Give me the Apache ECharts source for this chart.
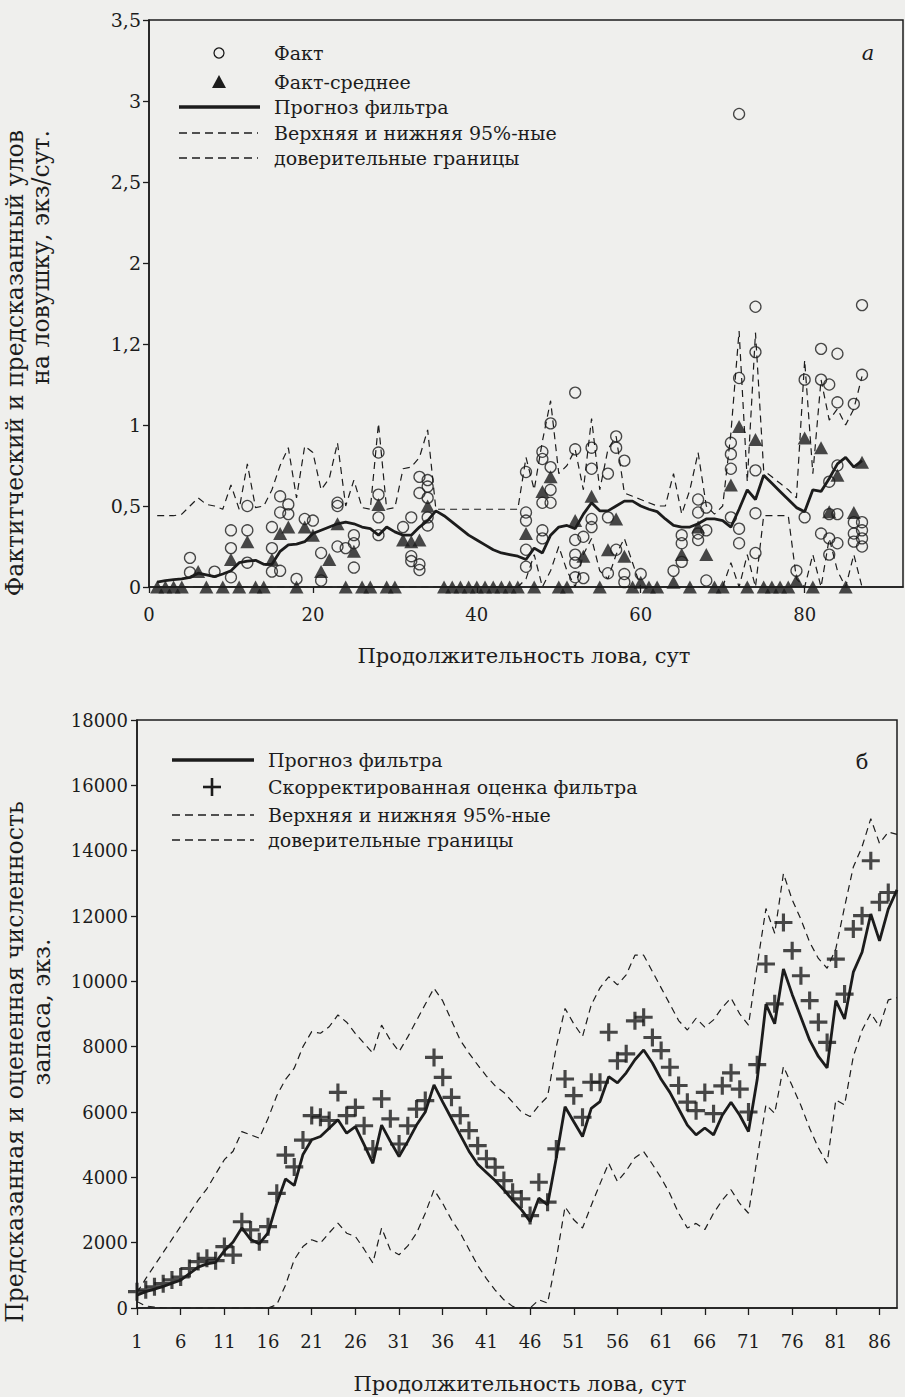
<!DOCTYPE html>
<html><head><meta charset="utf-8">
<script src="https://cdn.jsdelivr.net/npm/echarts@6/dist/echarts.min.js"></script>
<style>html,body{margin:0;padding:0;background:#efefed;}#c{width:905px;height:1397px;}</style>
</head><body><div id="c"></div>
<script>
// ---------- Panel a (top) ----------
const topDays = [1,2,3,4,5,6,7,8,9,10,11,12,13,14,15,16,17,18,19,20,21,22,23,24,25,26,27,28,29,30,31,32,33,34,35,36,37,38,39,40,41,42,43,44,45,46,47,48,49,50,51,52,53,54,55,56,57,58,59,60,61,62,63,64,65,66,67,68,69,70,71,72,73,74,75,76,77,78,79,80,81,82,83,84,85,86,87];
const topForecast = [0.03,0.04,0.045,0.05,0.06,0.085,0.075,0.064,0.08,0.1,
  0.15,0.16,0.165,0.14,0.14,0.22,0.26,0.265,0.28,0.33,
  0.35,0.37,0.39,0.40,0.39,0.37,0.36,0.32,0.37,0.34,
  0.32,0.32,0.37,0.41,0.47,0.44,0.40,0.36,0.32,0.29,
  0.26,0.23,0.21,0.20,0.19,0.17,0.24,0.21,0.32,0.37,
  0.38,0.36,0.45,0.52,0.47,0.47,0.50,0.53,0.53,0.50,
  0.48,0.465,0.42,0.38,0.37,0.37,0.39,0.42,0.42,0.41,
  0.37,0.48,0.60,0.54,0.69,0.64,0.59,0.54,0.49,0.465,
  0.60,0.59,0.67,0.76,0.80,0.74,0.78];
const topUpper = [0.44,0.44,0.44,0.45,0.50,0.55,0.51,0.50,0.48,0.63,
  0.48,0.76,0.49,0.50,0.60,0.75,0.86,0.55,0.87,0.83,
  0.60,0.67,0.89,0.50,0.66,0.49,0.48,1.01,0.48,0.49,
  0.73,0.74,0.80,0.97,0.48,0.48,0.48,0.48,0.48,0.48,
  0.48,0.48,0.48,0.48,0.48,0.80,0.60,0.90,1.15,0.70,
  0.75,0.85,0.60,1.04,0.60,0.85,0.93,0.58,0.56,0.54,
  0.52,0.50,0.50,0.70,0.45,0.60,0.83,0.50,0.45,0.50,
  0.95,1.58,0.65,1.57,0.72,0.68,0.64,0.60,0.55,1.40,
  0.70,1.28,1.03,1.10,1.00,1.10,1.30];
const topLower = [0,0,0,0,0,0,0,0,0,0,
  0,0,0,0,0,0,0,0,0,0,
  0,0,0,0,0,0,0,0,0,0,
  0,0,0,0,0,0,0,0,0,0,
  0,0,0,0,0,0.05,0.2,0,0.1,0.25,
  0.1,0,0.2,0.3,0.1,0.05,0.2,0.3,0.15,0,
  0,0,0,0,0,0,0,0,0,0,
  0.15,0,0.2,0,0.44,0.44,0.44,0.44,0.05,0,
  0.2,0,0.3,0.1,0,0.2,0];
const factPoints = [[5,0.18],[5,0.09],[8,0.095],[10,0.35],[10,0.24],[10,0.06],[12,0.5],[12,0.35],[12,0.15],
  [15,0.37],[15,0.24],[15,0.095],[16,0.56],[16,0.46],[16,0.1],[17,0.51],[17,0.45],[18,0.05],[19,0.42],[20,0.41],
  [21,0.21],[21,0.04],[23,0.52],[23,0.5],[23,0.25],[24,0.24],[25,0.32],[25,0.27],[25,0.12],
  [28,0.83],[28,0.57],[28,0.43],[28,0.32],[31,0.37],[32,0.43],[32,0.19],[32,0.16],
  [33,0.68],[33,0.58],[33,0.14],[33,0.105],[34,0.66],[34,0.62],[34,0.55],[34,0.43],[34,0.38],
  [46,0.71],[46,0.46],[46,0.41],[46,0.23],[46,0.125],[48,0.835],[48,0.79],[48,0.52],[48,0.35],[48,0.3],
  [49,1.01],[49,0.74],[49,0.6],[49,0.52],[52,1.2],[52,0.85],[52,0.29],[52,0.2],[52,0.15],[52,0.06],
  [53,0.31],[53,0.055],[54,0.86],[54,0.73],[54,0.42],[54,0.37],[56,0.7],[56,0.43],[56,0.085],
  [57,0.93],[57,0.86],[57,0.23],[58,0.78],[58,0.08],[58,0.03],[60,0.08],[64,0.1],
  [65,0.32],[65,0.27],[65,0.155],[67,0.54],[67,0.46],[67,0.33],[67,0.29],[68,0.49],[68,0.35],[68,0.04],
  [71,0.89],[71,0.82],[71,0.73],[71,0.43],[72,2.92],[72,1.29],[72,0.36],[72,0.27],
  [74,1.73],[74,1.45],[74,0.72],[74,0.455],[74,0.21],[79,0.1],[80,1.28],[80,0.43],
  [82,1.47],[82,1.28],[82,0.33],[83,1.25],[83,0.65],[83,0.45],[83,0.3],[83,0.2],
  [84,1.44],[84,1.14],[84,0.75],[84,0.45],[84,0.27],[86,1.13],[86,0.4],[86,0.33],[86,0.28],
  [87,1.74],[87,1.31],[87,0.4],[87,0.35],[87,0.3],[87,0.25]];
const meanPoints = [[6,0.095],[10,0.17],[12,0.28],[15,0.17],[16,0.33],[17,0.37],[19,0.37],[20,0.32],[21,0.095],
  [22,0.17],[23,0.39],[25,0.22],[28,0.51],[31,0.29],[32,0.28],[33,0.29],[34,0.5],[46,0.33],[48,0.59],[49,0.68],
  [52,0.41],[53,0.19],[54,0.56],[56,0.23],[57,0.42],[58,0.19],[60,0.03],[64,0.03],[65,0.2],[67,0.37],[68,0.2],
  [71,0.63],[72,0.99],[74,0.91],[79,0.04],[80,0.92],[82,0.86],[83,0.465],[84,0.69],[86,0.46],[87,0.77],
  [1,0],[2,0],[3,0],[4,0],[7,0],[9,0],[11,0],[13,0],[14,0],[18,0],[24,0],[26,0],[27,0],[29,0],[30,0],
  [36,0],[37,0],[38,0],[39,0],[40,0],[41,0],[42,0],[43,0],[44,0],[45,0],[47,0],[50,0],[51,0],[55,0],
  [59,0],[61,0],[62,0],[66,0],[69,0],[70,0],[73,0],[75,0],[76,0],[77,0],[78,0],[81,0],[85,0]];
const topYLabels = ['0','0,5','1','1,2','2','2,5','3','3,5'];

// ---------- Panel б (bottom) ----------
const botDays = ['1','2','3','4','5','6','7','8','9','10','11','12','13','14','15','16','17','18','19','20','21','22','23','24','25','26','27','28','29','30','31','32','33','34','35','36','37','38','39','40','41','42','43','44','45','46','47','48','49','50','51','52','53','54','55','56','57','58','59','60','61','62','63','64','65','66','67','68','69','70','71','72','73','74','75','76','77','78','79','80','81','82','83','84','85','86','87','88'];
const botForecast = [390,500,580,660,760,850,1050,1250,1350,1400,
  1750,2020,2450,2100,1970,2300,3200,3950,3750,4700,
  5150,5250,5500,5760,5350,5550,5000,4430,5600,5100,
  4640,5100,5600,6000,6830,6300,5800,5300,4800,4400,
  4150,3900,3620,3300,3010,2650,3360,3160,4600,6160,
  5700,5250,6110,6320,7080,6890,7200,7600,7900,7500,
  7000,6600,6100,5600,5300,5510,5300,5900,6300,5900,
  5400,7000,9300,8700,10380,9600,8900,8200,7700,7350,
  9410,8850,10280,10890,12060,11240,12210,12800];
const botCorrected = [500,560,650,745,860,950,1210,1420,1520,1450,
  1880,1620,2640,2390,2030,2490,3510,4680,4320,5140,
  5890,5840,5740,6600,5890,6140,5580,4870,6400,5790,
  5020,5580,6090,6350,7670,7060,6450,5890,5430,4970,
  4570,4310,3900,3546,3340,2830,3850,3240,4870,7010,
  6500,5840,6910,6910,8440,7570,7780,8790,8900,8280,
  7880,7370,6810,6300,6040,6600,5950,6800,7200,6700,
  6000,7450,10530,9310,11800,10940,10170,9410,8750,8130,
  10680,9610,11600,12010,13690,12420,12720,null];
const botUpper = [470,900,1300,1700,2100,2500,2900,3300,3650,4100,
  4540,4800,5400,5300,5200,5800,6500,7000,7340,8000,
  8460,8410,8610,8970,8750,8400,8100,7800,8660,8200,
  7850,8300,8800,9300,9790,9400,8800,8200,7800,7440,
  7100,6800,6600,6300,6000,5860,6200,6470,8000,9170,
  8700,8310,9280,9800,10140,9890,10200,10800,10800,10300,
  9800,9300,8800,8510,8870,8600,8820,9200,9490,9000,
  8660,10500,12230,11470,13300,12500,11900,11200,10700,10400,
  11000,12280,13500,14120,14980,14220,14570,14500];
const botLower = [200,60,30,0,0,0,0,0,0,0,
  0,0,0,0,0,0,100,700,1480,1880,
  2090,1990,2300,2600,2290,2190,1800,1380,2450,1780,
  1630,1900,2290,2900,3620,3200,2700,2300,1800,1300,
  900,550,250,50,0,0,250,150,1500,3100,
  2700,2450,3140,3800,4430,3870,4200,4600,4790,4400,
  3980,3500,2900,2450,2590,2400,2900,3300,3620,3200,
  2900,4600,6220,5960,7390,6800,6200,5500,4900,4430,
  6370,6220,7700,8500,9020,8610,9430,9500];

// ---------- styling ----------
const ink = '#1c1c1c';
const serif = 'DejaVu Serif';
const dash = [7, 5];
const plusPath = 'path://M6.6,0h2.8v16h-2.8zM0,6.6h16v2.8h-16z';
const pairs = (xs, ys) => xs.map((x, i) => [x, ys[i]]);

const axisCommon = {
  axisLine: {show: true, lineStyle: {color: ink, width: 1.5}},
  axisTick: {show: true, inside: false, length: 6, lineStyle: {color: ink, width: 1.3}},
  splitLine: {show: false},
  axisLabel: {color: ink, fontFamily: serif, fontSize: 18}
};

const chart = echarts.init(document.getElementById('c'), null, {renderer: 'svg'});

function txt(x, y, s, opt) {
  return Object.assign({type: 'text', x: x, y: y, silent: true,
    style: Object.assign({text: s, fill: ink, fontFamily: serif, fontSize: 19,
      align: 'left', textAlign: 'left', verticalAlign: 'middle', textVerticalAlign: 'middle'}, (opt && opt.style) || {})},
    (opt && opt.el) || {});
}
function seg(x1, y1, x2, y2, w, d) {
  return {type: 'line', silent: true, shape: {x1: x1, y1: y1, x2: x2, y2: y2},
    style: {stroke: ink, lineWidth: w, lineDash: d || null}};
}

const graphics = [
  // top legend
  {type: 'circle', silent: true, shape: {cx: 219, cy: 53, r: 5}, style: {fill: 'none', stroke: ink, lineWidth: 1.3}},
  {type: 'polygon', silent: true, shape: {points: [[219, 75], [212, 88], [226, 88]]}, style: {fill: ink}},
  seg(179, 107, 260, 107, 3.5),
  seg(179, 133, 258, 133, 1.3, [8, 5]),
  seg(179, 158, 258, 158, 1.3, [8, 5]),
  txt(274, 53, 'Факт'),
  txt(274, 82, 'Факт-среднее'),
  txt(274, 107, 'Прогноз фильтра'),
  txt(274, 133, 'Верхняя и нижняя 95%-ные'),
  txt(274, 158, 'доверительные границы'),
  txt(868, 53, 'а', {style: {fontStyle: 'italic', fontSize: 21, align: 'center', textAlign: 'center'}}),
  // bottom legend
  seg(172, 760, 254, 760, 3.5),
  seg(212, 778, 212, 796, 2.6),
  seg(203, 787, 221, 787, 2.6),
  seg(172, 815, 254, 815, 1.3, [8, 5]),
  seg(172, 840, 254, 840, 1.3, [8, 5]),
  txt(268, 760, 'Прогноз фильтра'),
  txt(268, 787, 'Скорректированная оценка фильтра'),
  txt(268, 815, 'Верхняя и нижняя 95%-ные'),
  txt(268, 840, 'доверительные границы'),
  txt(862, 762, 'б', {style: {fontSize: 21, align: 'center', textAlign: 'center'}}),
  // axis titles
  txt(524, 656, 'Продолжительность лова, сут', {style: {fontSize: 21, align: 'center', textAlign: 'center'}}),
  txt(520, 1384, 'Продолжительность лова, сут', {style: {fontSize: 21, align: 'center', textAlign: 'center'}}),
  txt(15, 130, 'Фактитческий и предсказанный улов', {el: {rotation: Math.PI / 2}, style: {fontSize: 23.5, align: 'right', textAlign: 'right'}}),
  txt(41, 130, 'на ловушку, экз/сут.', {el: {rotation: Math.PI / 2}, style: {fontSize: 23.5, align: 'right', textAlign: 'right'}}),
  txt(15, 1062, 'Предсказанная и оцененная численность', {el: {rotation: Math.PI / 2}, style: {fontSize: 23.5, align: 'center', textAlign: 'center'}}),
  txt(42, 1012, 'запаса, экз.', {el: {rotation: Math.PI / 2}, style: {fontSize: 23.5, align: 'center', textAlign: 'center'}})
];

const lineBase = {type: 'line', symbol: 'none', silent: true, z: 2};

chart.setOption({
  animation: false,
  backgroundColor: '#efefed',
  grid: [
    {left: 149, right: 2, top: 20, height: 567, show: true, borderColor: ink, borderWidth: 1.5, backgroundColor: 'transparent'},
    {left: 137, right: 8, top: 720, height: 588, show: true, borderColor: ink, borderWidth: 1.5, backgroundColor: 'transparent'}
  ],
  xAxis: [
    Object.assign({}, axisCommon, {gridIndex: 0, type: 'value', min: 0, max: 92, interval: 20,
      axisLabel: Object.assign({}, axisCommon.axisLabel, {margin: 18, showMaxLabel: false})}),
    Object.assign({}, axisCommon, {gridIndex: 1, type: 'category', data: botDays, boundaryGap: false,
      axisTick: Object.assign({}, axisCommon.axisTick, {interval: 4, length: 7}),
      axisLabel: Object.assign({}, axisCommon.axisLabel, {interval: 4, margin: 24})})
  ],
  yAxis: [
    Object.assign({}, axisCommon, {gridIndex: 0, type: 'value', min: 0, max: 3.5, interval: 0.5,
      axisLabel: Object.assign({}, axisCommon.axisLabel, {margin: 8, fontSize: 19,
        formatter: v => topYLabels[Math.round(v / 0.5)]})}),
    Object.assign({}, axisCommon, {gridIndex: 1, type: 'value', min: 0, max: 18000, interval: 2000,
      axisLabel: Object.assign({}, axisCommon.axisLabel, {margin: 9, formatter: v => String(v)})})
  ],
  series: [
    Object.assign({}, lineBase, {name: 'Верхняя граница (а)', xAxisIndex: 0, yAxisIndex: 0,
      data: pairs(topDays, topUpper), lineStyle: {color: ink, width: 1.2, type: dash}}),
    Object.assign({}, lineBase, {name: 'Нижняя граница (а)', xAxisIndex: 0, yAxisIndex: 0,
      data: pairs(topDays, topLower), lineStyle: {color: ink, width: 1.2, type: dash}}),
    Object.assign({}, lineBase, {name: 'Прогноз фильтра (а)', xAxisIndex: 0, yAxisIndex: 0, z: 3,
      data: pairs(topDays, topForecast), lineStyle: {color: ink, width: 2.8}}),
    {type: 'scatter', name: 'Факт', xAxisIndex: 0, yAxisIndex: 0, z: 4, silent: true, clip: false,
      symbol: 'circle', symbolSize: 11, data: factPoints,
      itemStyle: {color: 'rgba(0,0,0,0)', borderColor: ink, borderWidth: 1.3}},
    {type: 'scatter', name: 'Факт-среднее', xAxisIndex: 0, yAxisIndex: 0, z: 5, silent: true, clip: false,
      symbol: 'triangle', symbolSize: [14, 13], data: meanPoints, itemStyle: {color: ink}},

    Object.assign({}, lineBase, {name: 'Верхняя граница (б)', xAxisIndex: 1, yAxisIndex: 1,
      data: botUpper, lineStyle: {color: ink, width: 1.2, type: dash}}),
    Object.assign({}, lineBase, {name: 'Нижняя граница (б)', xAxisIndex: 1, yAxisIndex: 1,
      data: botLower, lineStyle: {color: ink, width: 1.2, type: dash}}),
    Object.assign({}, lineBase, {name: 'Прогноз фильтра (б)', xAxisIndex: 1, yAxisIndex: 1, z: 3,
      data: botForecast, lineStyle: {color: ink, width: 2.8}}),
    {type: 'scatter', name: 'Скорректированная оценка фильтра', xAxisIndex: 1, yAxisIndex: 1, z: 4, silent: true,
      clip: false, symbol: plusPath, symbolSize: 18, data: botCorrected, itemStyle: {color: ink}}
  ],
  graphic: graphics
});
</script></body></html>
